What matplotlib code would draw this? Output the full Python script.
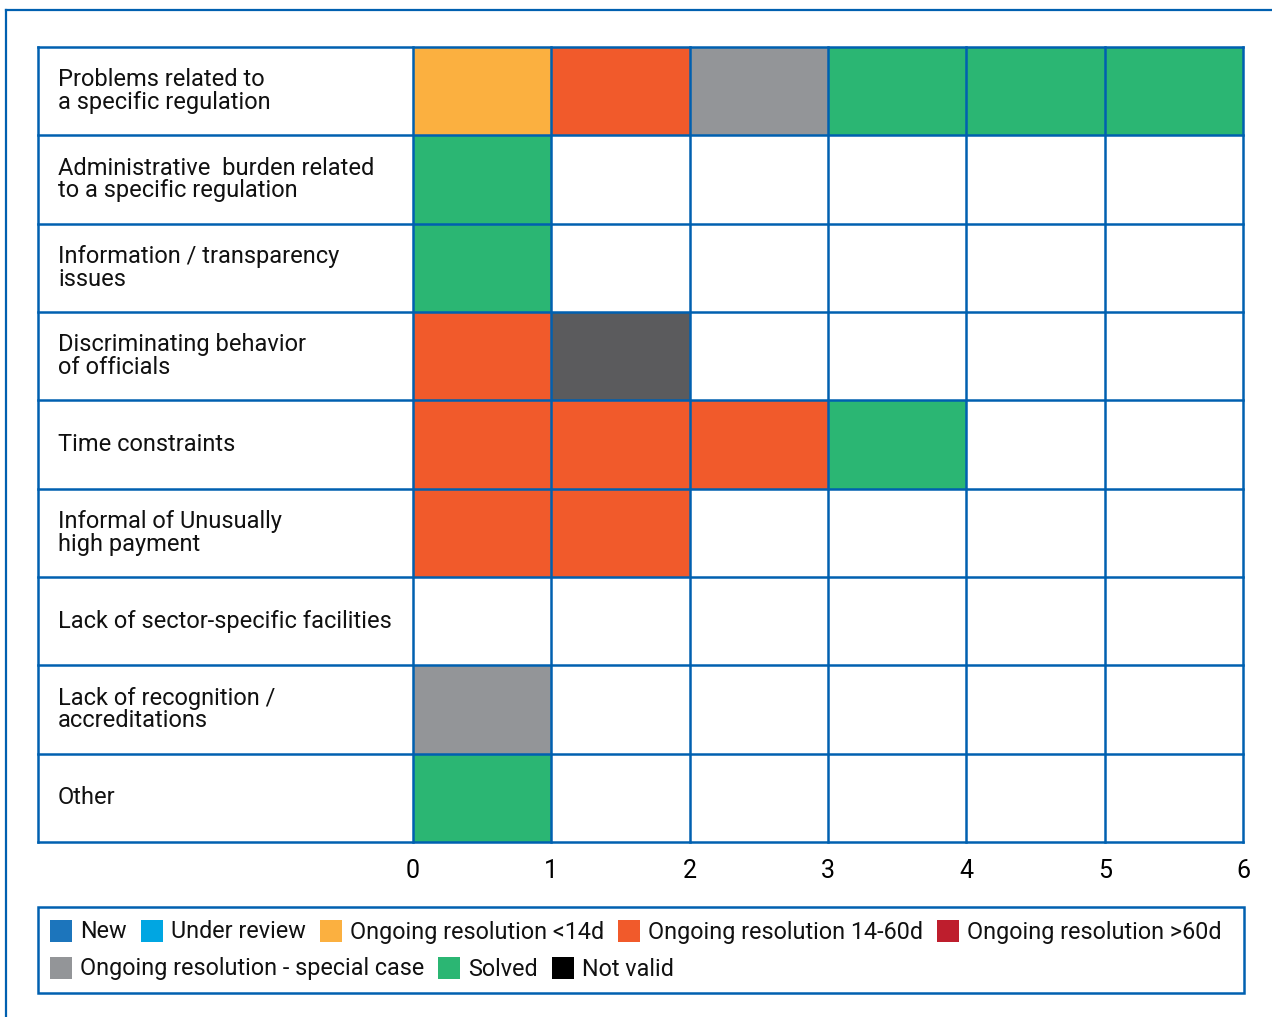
import matplotlib
matplotlib.use("Agg")
import matplotlib.pyplot as plt
from matplotlib.patches import Rectangle
from matplotlib.lines import Line2D

plt.rcParams['font.family'] = ['Roboto', 'DejaVu Sans']

# -----------------------------------------------
# Data
# -----------------------------------------------

categories = [
    "Problems related to\na specific regulation",
    "Administrative  burden related\nto a specific regulation",
    "Information / transparency\nissues",
    "Discriminating behavior\nof officials",
    "Time constraints",
    "Informal of Unusually\nhigh payment",
    "Lack of sector-specific facilities",
    "Lack of recognition /\naccreditations",
    "Other",
]

# one entry per case, in the order they appear along the row
cases = [
    ["<14d", "14-60d", "special", "solved", "solved", "solved"],
    ["solved"],
    ["solved"],
    ["14-60d", "dark"],
    ["14-60d", "14-60d", "14-60d", "solved"],
    ["14-60d", "14-60d"],
    [],
    ["special"],
    ["solved"],
]

x_ticks = [0, 1, 2, 3, 4, 5, 6]

legend_labels = ["New", "Under review", "Ongoing resolution <14d",
                 "Ongoing resolution 14-60d", "Ongoing resolution >60d",
                 "Ongoing resolution - special case", "Solved", "Not valid"]
legend_keys = ["new", "review", "<14d", "14-60d", ">60d", "special", "solved", "invalid"]

colors = {
    "new": "#1c75bc",
    "review": "#00a6e2",
    "<14d": "#fbb040",
    "14-60d": "#f15a2b",
    ">60d": "#be1e2d",
    "special": "#939598",
    "solved": "#2bb673",
    "invalid": "#000000",
    "dark": "#5b5b5d",
}

BLUE = "#0060b0"
W, H = 1272, 1017
FS = 17

# -----------------------------------------------
# Figure and grid axes
# -----------------------------------------------

fig = plt.figure(figsize=(W / 100, H / 100), dpi=100)
fig.patch.set_facecolor("white")

# outer frame (only top and left visible)
fig.add_artist(Line2D([6 / W, 6 / W], [0, 1 - 10 / H], transform=fig.transFigure, color=BLUE, lw=1.6))
fig.add_artist(Line2D([6 / W, 1], [1 - 10 / H, 1 - 10 / H], transform=fig.transFigure, color=BLUE, lw=1.6))

left, right, top, bottom = 38, 1243, 47, 842
ax = fig.add_axes([left / W, 1 - bottom / H, (right - left) / W, (bottom - top) / H])

cell_px = (right - 413) / 6
label_w = (413 - left) / cell_px
n_rows = len(categories)

ax.set_xlim(-label_w, 6)
ax.set_ylim(n_rows, 0)

for i, row in enumerate(cases):
    for j, key in enumerate(row):
        ax.add_patch(Rectangle((j, i), 1, 1, facecolor=colors[key], edgecolor="none"))

for i in range(n_rows + 1):
    ax.plot([-label_w, 6], [i, i], color=BLUE, lw=1.8, clip_on=False, solid_capstyle="projecting")
for x in [-label_w] + x_ticks:
    ax.plot([x, x], [0, n_rows], color=BLUE, lw=1.8, clip_on=False, solid_capstyle="projecting")

for i, name in enumerate(categories):
    ax.text(-label_w + 20 / cell_px, i + 0.5, name, ha="left", va="center",
            fontsize=FS, linespacing=0.98, color="#111111")

ax.set_xticks(x_ticks)
ax.set_xticklabels([str(t) for t in x_ticks], fontsize=FS + 1)
ax.tick_params(axis="x", length=0, pad=12)
ax.set_yticks([])
for s in ax.spines.values():
    s.set_visible(False)

# -----------------------------------------------
# Legend (two rows, like the original)
# -----------------------------------------------

fig.add_artist(Rectangle((38 / W, 1 - 993 / H), (1244 - 38) / W, (993 - 907) / H,
                         transform=fig.transFigure, facecolor="none", edgecolor=BLUE, lw=1.8))

renderer = fig.canvas.get_renderer()
row_y = [931, 968]
first_of_row2 = 5
sq = 22
x = 50
for k, (key, lab) in enumerate(zip(legend_keys, legend_labels)):
    if k == first_of_row2:
        x = 50
    y = row_y[0] if k < first_of_row2 else row_y[1]
    t = fig.text(0, 0, lab, fontsize=16.8, va="center", ha="left", color="#111111")
    tw = t.get_window_extent(renderer).width
    fig.add_artist(Rectangle((x / W, 1 - (y + sq / 2) / H), sq / W, sq / H,
                             transform=fig.transFigure, facecolor=colors[key], edgecolor="none"))
    t.set_position(((x + sq + 8) / W, 1 - (y + 1) / H))
    x = x + sq + 8 + tw + 14

fig.savefig("out.png", dpi=100)
